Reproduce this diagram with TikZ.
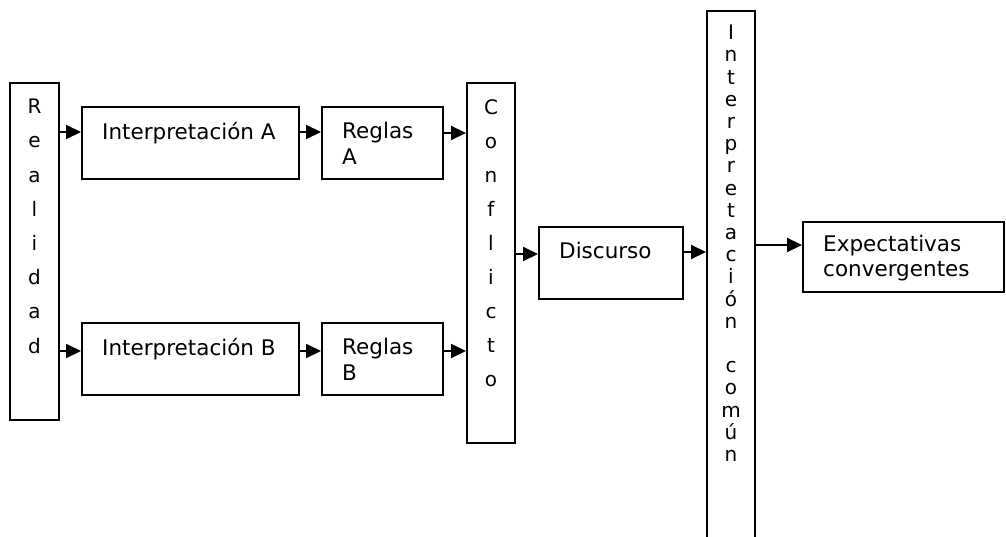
\documentclass[tikz,border=0pt]{standalone}
\usepackage{fontspec}
\setmainfont{DejaVu Sans}
\usetikzlibrary{arrows.meta,calc}
\begin{document}
\begin{tikzpicture}[x=1pt,y=1pt,
  box/.style={draw,line width=2pt,inner sep=0pt},
  arr/.style={line width=2pt,-{Triangle[length=15pt,width=14pt]}},
  txt/.style={inner sep=0pt,anchor=base west,align=left,font=\fontsize{21.5}{26}\selectfont},
  vtxt/.style={inner sep=0pt,anchor=north,align=center},
]
\useasboundingbox (0,0) rectangle (1006,-536);
\clip (0,0) rectangle (1006,-536);
% boxes
\node[box,minimum width=49pt,minimum height=337pt] (real) at (34.5,-251.5) {};
\node[box,minimum width=217pt,minimum height=72pt] (ia) at (190.5,-143) {};
\node[box,minimum width=217pt,minimum height=72pt] (ib) at (190.5,-359) {};
\node[box,minimum width=121pt,minimum height=72pt] (ra) at (382.5,-143) {};
\node[box,minimum width=121pt,minimum height=72pt] (rb) at (382.5,-359) {};
\node[box,minimum width=48pt,minimum height=360pt] (conf) at (491,-263) {};
\node[box,minimum width=144pt,minimum height=72pt] (disc) at (611,-263) {};
\node[box,minimum width=48pt,minimum height=549pt] (ic) at (731,-285.5) {};
\node[box,minimum width=201pt,minimum height=70pt] (exp) at (903.5,-257) {};
% texts
\node[vtxt,font=\fontsize{20}{34.2}\selectfont] (realt) at ($(real.north)+(0,-17)$) {R\\e\\a\\l\\i\\d\\a\\d};
\node[vtxt,font=\fontsize{20}{34.1}\selectfont] (conft) at ($(conf.north)+(0,-17)$) {C\\o\\n\\f\\l\\i\\c\\t\\o};
\node[vtxt,font=\fontsize{20}{22.2}\selectfont] (ict) at ($(ic.north)+(0,-15)$) {I\\n\\t\\e\\r\\p\\r\\e\\t\\a\\c\\i\\ó\\n\\\mbox{}\\c\\o\\m\\ú\\n};
\node[txt] (iat) at ($(ia.north west)+(21,-33)$) {Interpretación A};
\node[txt] (ibt) at ($(ib.north west)+(21,-33)$) {Interpretación B};
\node[txt] (rat) at ($(ra.north west)+(21,-58)$) {Reglas\\A};
\node[txt] (rbt) at ($(rb.north west)+(21,-58)$) {Reglas\\B};
\node[txt] (disct) at ($(disc.north west)+(21,-32)$) {Discurso};
\node[txt,font=\fontsize{21.5}{25}\selectfont] (expt) at ($(exp.north west)+(21,-55)$) {Expectativas\\convergentes};
% arrow levels
\coordinate (ya) at (0,-132);
\coordinate (yb) at (0,-351);
\coordinate (yra) at (0,-133);
\coordinate (yc) at (0,-254);
\coordinate (yd) at (0,-252);
\coordinate (ye) at (0,-245);
% arrows
\draw[arr] (real.east |- ya) -- (ia.west |- ya);
\draw[arr] (real.east |- yb) -- (ib.west |- yb);
\draw[arr] (ia.east |- ya) -- (ra.west |- ya);
\draw[arr] (ib.east |- yb) -- (rb.west |- yb);
\draw[arr] (ra.east |- yra) -- (conf.west |- yra);
\draw[arr] (rb.east |- yb) -- (conf.west |- yb);
\draw[arr] (conf.east |- yc) -- (disc.west |- yc);
\draw[arr] (disc.east |- yd) -- (ic.west |- yd);
\draw[arr] (ic.east |- ye) -- (exp.west |- ye);
\end{tikzpicture}
\end{document}
